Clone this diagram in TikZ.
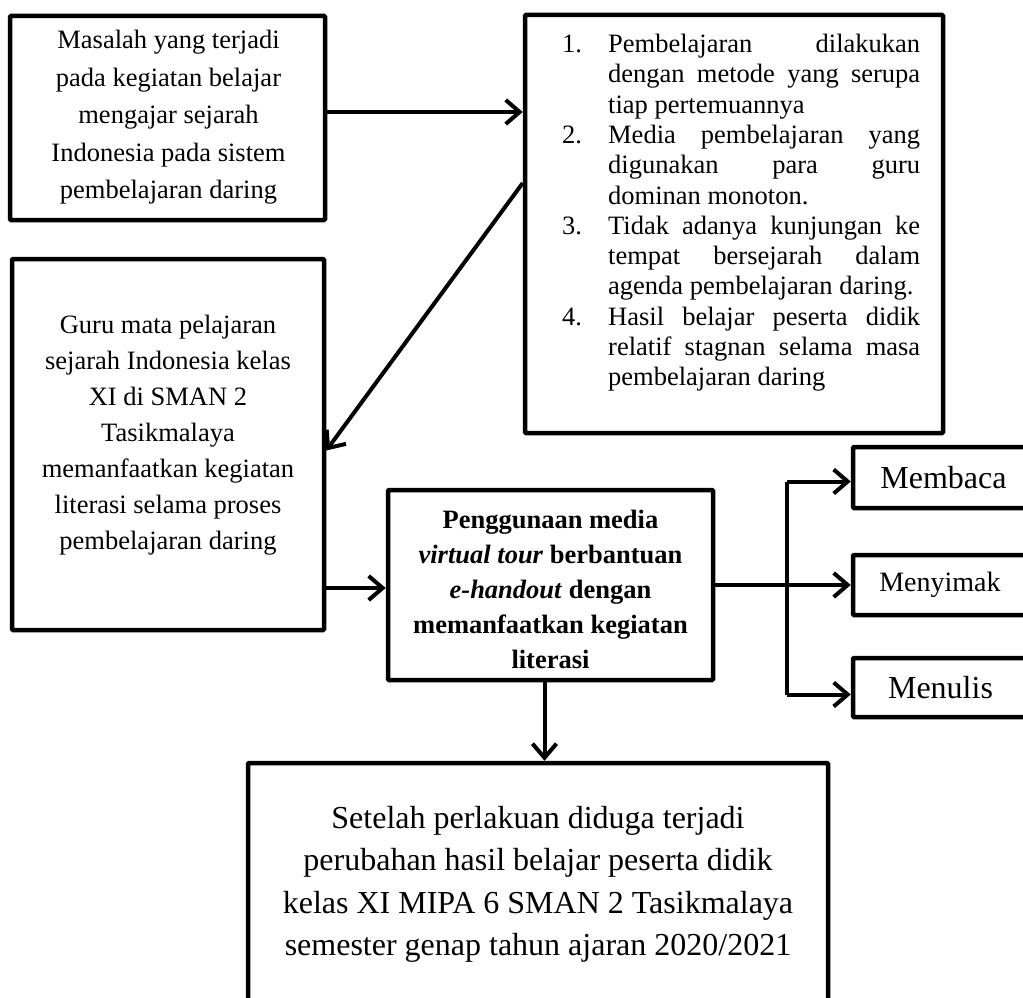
\documentclass[tikz,border=0pt]{standalone}
\usepackage{fontspec}
\setmainfont{Liberation Serif}
\usetikzlibrary{arrows.meta}
\tikzset{
  box/.style={draw, line width=4.5pt, rounded corners=1pt, inner sep=0pt, anchor=center},
  txt/.style={inner sep=0pt, align=center, anchor=north},
  conn/.style={line width=4pt},
  arr/.style={line width=4pt, -{Straight Barb[length=14pt,width=24pt,line width=4pt]}},
}
\begin{document}
\begin{tikzpicture}[x=1pt,y=-1pt]
\useasboundingbox (0,0) rectangle (1023,998);
\clip (0,0) rectangle (1023,998);
% boxes
\node[box, minimum width=315pt, minimum height=204pt] (A) at (167.5,118) {};
\node[box, minimum width=418pt, minimum height=418pt] (B) at (734,224) {};
\node[box, minimum width=312pt, minimum height=371pt] (C) at (168,444.5) {};
\node[box, minimum width=325pt, minimum height=190pt] (D) at (550.5,585) {};
\node[box, minimum width=187pt, minimum height=61pt] (M1) at (946.5,477.5) {};
\node[box, minimum width=187pt, minimum height=60pt] (M2) at (946.5,585) {};
\node[box, minimum width=187pt, minimum height=59pt] (M3) at (946.5,687.5) {};
\node[box, minimum width=580pt, minimum height=277pt] (E) at (538,901.5) {};
% texts
\node[txt, font=\fontsize{26.5}{37.5}\selectfont] (tA) at (168.5,30)
  {Masalah yang terjadi\\pada kegiatan belajar\\mengajar sejarah\\Indonesia pada sistem\\pembelajaran daring};
\node[inner sep=0pt, anchor=north west, text width=358pt, align=justify, font=\fontsize{26.5}{30.3}\selectfont] (tB) at (562,34)
  {\setlength{\parindent}{0pt}%
   \hangindent=46pt\hangafter=1\makebox[46pt][l]{1.}Pembelajaran dilakukan\linebreak dengan metode yang serupa\linebreak tiap pertemuannya\par
   \hangindent=46pt\hangafter=1\makebox[46pt][l]{2.}Media pembelajaran yang\linebreak digunakan para guru\linebreak dominan monoton.\par
   \hangindent=46pt\hangafter=1\makebox[46pt][l]{3.}Tidak adanya kunjungan ke\linebreak tempat bersejarah dalam\linebreak agenda pembelajaran daring.\par
   \hangindent=46pt\hangafter=1\makebox[46pt][l]{4.}Hasil belajar peserta didik\linebreak relatif stagnan selama masa\linebreak pembelajaran daring\par};
\node[txt, font=\fontsize{26.5}{36}\selectfont] (tC) at (168,315)
  {Guru mata pelajaran\\sejarah Indonesia kelas\\XI di SMAN 2\\Tasikmalaya\\memanfaatkan kegiatan\\literasi selama proses\\pembelajaran daring};
\node[txt, font=\fontsize{26.5}{35}\selectfont\bfseries] (tD) at (550.5,510)
  {Penggunaan media\\\textit{virtual tour} berbantuan\\\textit{e-handout} dengan\\memanfaatkan kegiatan\\literasi};
\node[font=\fontsize{32}{34}\selectfont, inner sep=0pt] (t1) at (943.5,477.5) {Membaca};
\node[font=\fontsize{28}{30}\selectfont, inner sep=0pt] (t2) at (940,585) {Menyimak};
\node[font=\fontsize{32}{34}\selectfont, inner sep=0pt] (t3) at (940.5,687.5) {Menulis};
\node[txt, font=\fontsize{32}{42.3}\selectfont] (tE) at (538,806)
  {Setelah perlakuan diduga terjadi\\perubahan hasil belajar peserta didik\\kelas XI MIPA 6 SMAN 2 Tasikmalaya\\semester genap tahun ajaran 2020/2021};
% connectors
\draw[arr] ([yshift=6pt]A.east) -- ([yshift=6pt]A.east -| B.west);
\draw[arr] ([yshift=41pt]B.west) -- ([yshift=-6pt]C.east);
\draw[arr] ([yshift=-3pt]D.west -| C.east) -- ([yshift=-3pt]D.west);
\draw[arr] ([xshift=-6pt]D.south) -- ([xshift=-6pt]D.south |- E.north);
\coordinate (J) at (787,585);
\draw[conn] (D.east) -- (J);
\draw[conn] ([yshift=-4pt]J |- M1.west) -- ([yshift=-7pt]J |- M3.west);
\draw[arr] ([yshift=-4pt]J |- M1.west) -- ([yshift=-4pt]M1.west);
\draw[arr] (J |- M2.west) -- (M2.west);
\draw[arr] ([yshift=-7pt]J |- M3.west) -- ([yshift=-7pt]M3.west);
\end{tikzpicture}
\end{document}
